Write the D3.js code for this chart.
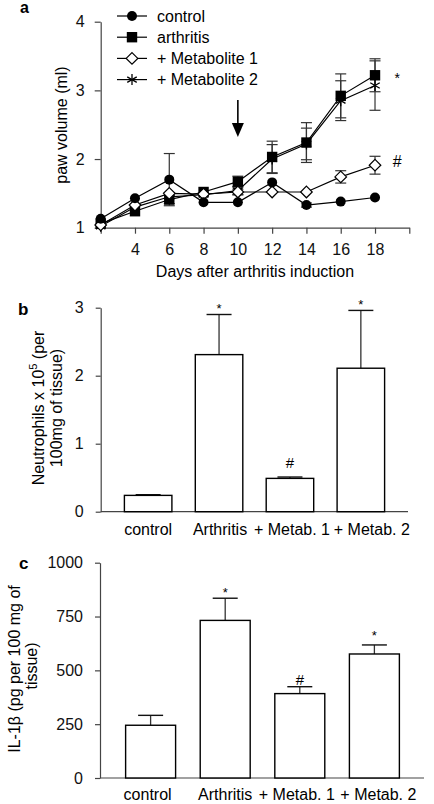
<!DOCTYPE html>
<html>
<head>
<meta charset="utf-8">
<script src="https://cdn.jsdelivr.net/npm/d3@7"></script>
<style>
  html, body { margin: 0; padding: 0; background: #fff; }
  svg { display: block; font-family: "Liberation Sans", Arial, Helvetica, sans-serif; }
  .axis path, .axis line { stroke: #444; stroke-width: 1.2; }
</style>
</head>
<body>
<svg id="chart" width="434" height="804"></svg>
<script>
// ---------- DATA ----------
// Panel a: paw volume (ml) vs days after arthritis induction
const days = [2, 4, 6, 8, 10, 12, 14, 16, 18];
const dayTicks = [2, 4, 6, 8, 10, 12, 14, 16, 18, 20];
const dayLabels = [4, 6, 8, 10, 12, 14, 16, 18];
const pawTicks = [1, 2, 3, 4];
const seriesNames = ["control", "arthritis", "+ Metabolite 1", "+ Metabolite 2"];
const controlVals   = [1.13, 1.43, 1.70, 1.37, 1.37, 1.66, 1.33, 1.38, 1.44];
const controlErr    = [0, 0, 0.38, 0, 0, 0, 0.03, 0, 0];
const arthritisVals = [1.06, 1.24, 1.41, 1.52, 1.67, 2.03, 2.24, 2.92, 3.22];
const arthritisErr  = [0, 0, 0.06, 0, 0.08, 0.23, 0.29, 0.32, 0.24];
const metab1Vals    = [1.04, 1.33, 1.50, 1.49, 1.52, 1.52, 1.52, 1.74, 1.91];
const metab1Err     = [0, 0, 0, 0, 0.04, 0, 0, 0.09, 0.13];
const metab2Vals    = [1.02, 1.30, 1.45, 1.48, 1.54, 2.00, 2.22, 2.85, 3.07];
const metab2Err     = [0, 0, 0, 0, 0.06, 0.21, 0.23, 0.29, 0.36];
const treatmentDay = 10;
const arrowTop = 2.86, arrowTip = 2.32;
const sigA = [{ day: 19.3, v: 3.11, t: "*" }, { day: 19.3, v: 1.89, t: "#" }];

// Panel b: neutrophils
const groupsB = ["control", "Arthritis", "+ Metab. 1", "+ Metab. 2"];
const neutrophils    = [0.24, 2.31, 0.49, 2.11];
const neutrophilsErr = [0.01, 0.59, 0.02, 0.85];
const neutroMarks    = ["", "*", "#", "*"];
const neutroTicks    = [0, 1, 2, 3];

// Panel c: IL-1beta
const groupsC = ["control", "Arthritis", "+ Metab. 1", "+ Metab. 2"];
const il1b    = [245, 732, 392, 576];
const il1bErr = [46, 103, 32, 42];
const il1bMarks = ["", "*", "#", "*"];
const il1bTicks = [0, 250, 500, 750, 1000];

// ---------- DRAW ----------
const svg = d3.select("#chart");
const FONT = "Liberation Sans, Arial, sans-serif";
const fmt = d3.format("d");

function styleAxis(g) {
  g.selectAll("text").attr("font-size", 16).attr("font-family", FONT).attr("fill", "#111");
}

// ===== Panel a =====
const xA = d3.scaleLinear().domain([2, 20]).range([100.7, 409.3]);
const yA = d3.scaleLinear().domain([1, 4]).range([227.7, 21.7]);

svg.append("g").attr("class", "axis")
  .attr("transform", `translate(0,${yA(1)})`)
  .call(d3.axisBottom(xA).tickValues(dayTicks).tickSize(6).tickSizeOuter(0).tickPadding(10)
    .tickFormat(d => dayLabels.includes(d) ? fmt(d) : ""))
  .call(styleAxis);
svg.append("g").attr("class", "axis")
  .attr("transform", `translate(${xA(2)},0)`)
  .call(d3.axisLeft(yA).tickValues(pawTicks).tickSize(6).tickSizeOuter(0).tickPadding(10).tickFormat(fmt))
  .call(styleAxis);

svg.append("text").attr("x", 255).attr("y", 277).attr("text-anchor", "middle")
  .attr("font-size", 16).attr("font-family", FONT).text("Days after arthritis induction");
svg.append("text").attr("transform", "translate(66.5,125) rotate(-90)").attr("text-anchor", "middle")
  .attr("font-size", 16).attr("font-family", FONT).text("paw volume (ml)");

const seriesData = [
  { name: seriesNames[1], vals: arthritisVals, err: arthritisErr, sym: "square" },
  { name: seriesNames[3], vals: metab2Vals, err: metab2Err, sym: "asterisk" },
  { name: seriesNames[2], vals: metab1Vals, err: metab1Err, sym: "diamond" },
  { name: seriesNames[0], vals: controlVals, err: controlErr, sym: "circle" }
];

function drawSymbol(g, sym) {
  if (sym === "circle") {
    g.append("circle").attr("r", 5).attr("fill", "#000");
  } else if (sym === "square") {
    g.append("rect").attr("x", -5.2).attr("y", -5.2).attr("width", 10.4).attr("height", 10.4).attr("fill", "#000");
  } else if (sym === "diamond") {
    g.append("path").attr("d", "M0,-5.8L5.8,0L0,5.8L-5.8,0Z").attr("fill", "#fff").attr("stroke", "#000").attr("stroke-width", 1.2);
  } else {
    const r = 5.5;
    [90, 30, -30].forEach(a => {
      const rad = a * Math.PI / 180;
      g.append("line").attr("x1", -r * Math.cos(rad)).attr("y1", -r * Math.sin(rad))
        .attr("x2", r * Math.cos(rad)).attr("y2", r * Math.sin(rad))
        .attr("stroke", "#000").attr("stroke-width", 1.3);
    });
  }
}

const line = d3.line().x(d => xA(d.day)).y(d => yA(d.v));
seriesData.forEach(s => {
  const pts = days.map((d, i) => ({ day: d, v: s.vals[i] }));
  svg.append("path").datum(pts).attr("d", line).attr("fill", "none")
    .attr("stroke", "#000").attr("stroke-width", 1.2);
});
seriesData.forEach(s => {
  days.forEach((d, i) => {
    const e = s.err[i];
    if (!e) return;
    const x = xA(d), v = s.vals[i];
    svg.append("line").attr("x1", x).attr("x2", x).attr("y1", yA(v - e)).attr("y2", yA(v + e))
      .attr("stroke", "#333").attr("stroke-width", 1.2);
    [v - e, v + e].forEach(yy => {
      svg.append("line").attr("x1", x - 5.5).attr("x2", x + 5.5).attr("y1", yA(yy)).attr("y2", yA(yy))
        .attr("stroke", "#333").attr("stroke-width", 1.2);
    });
  });
});
seriesData.forEach(s => {
  days.forEach((d, i) => {
    const g = svg.append("g").attr("transform", `translate(${xA(d)},${yA(s.vals[i])})`);
    drawSymbol(g, s.sym);
  });
});

// legend
const legendSyms = ["circle", "square", "diamond", "asterisk"];
seriesNames.forEach((n, i) => {
  const y = 16 + i * 21.2;
  svg.append("line").attr("x1", 117).attr("x2", 147).attr("y1", y).attr("y2", y)
    .attr("stroke", "#000").attr("stroke-width", 1.2);
  const g = svg.append("g").attr("transform", `translate(132,${y})`);
  drawSymbol(g, legendSyms[i]);
  svg.append("text").attr("x", 157).attr("y", y + 5.8).attr("font-size", 16)
    .attr("font-family", FONT).text(n);
});

// arrow
const ax = xA(treatmentDay);
svg.append("line").attr("x1", ax).attr("x2", ax).attr("y1", yA(arrowTop)).attr("y2", yA(arrowTip) - 12)
  .attr("stroke", "#000").attr("stroke-width", 1.6);
svg.append("path")
  .attr("d", `M${ax - 6},${yA(arrowTip) - 14}L${ax + 6},${yA(arrowTip) - 14}L${ax},${yA(arrowTip)}Z`)
  .attr("fill", "#000");

sigA.forEach(s => {
  svg.append("text").attr("x", xA(s.day)).attr("y", yA(s.v)).attr("text-anchor", "middle")
    .attr("font-size", s.t === "*" ? 14 : 16).attr("font-family", FONT).text(s.t);
});

svg.append("text").attr("x", 20).attr("y", 13).attr("font-size", 16).attr("font-weight", "bold")
  .attr("font-family", FONT).text("a");

// ===== Bar panel helper =====
function barPanel(opts) {
  const { groups, vals, errs, marks, ticks, domain, yRange, xRange, axisX, axisEnd,
          markGap, labelNudge, labelY, capW } = opts;
  const x = d3.scaleBand().domain(groups).range(xRange).padding(0.33);
  const y = d3.scaleLinear().domain(domain).range(yRange);

  svg.append("g").attr("class", "axis").attr("transform", `translate(${axisX},0)`)
    .call(d3.axisLeft(y).tickValues(ticks).tickSize(5).tickSizeOuter(0).tickPadding(12).tickFormat(fmt))
    .call(styleAxis);
  svg.append("line").attr("x1", axisX).attr("x2", axisEnd).attr("y1", y(0)).attr("y2", y(0))
    .attr("stroke", "#444").attr("stroke-width", 1.2);

  groups.forEach((g, i) => {
    const cx = x(g) + x.bandwidth() / 2;
    svg.append("line").attr("x1", cx).attr("x2", cx).attr("y1", y(vals[i])).attr("y2", y(vals[i] + errs[i]))
      .attr("stroke", "#333").attr("stroke-width", 1.3);
    svg.append("line").attr("x1", cx - capW / 2).attr("x2", cx + capW / 2)
      .attr("y1", y(vals[i] + errs[i])).attr("y2", y(vals[i] + errs[i]))
      .attr("stroke", "#111").attr("stroke-width", 1.4);
  });
  svg.selectAll(null).data(groups).enter().append("rect")
    .attr("x", d => x(d)).attr("width", x.bandwidth())
    .attr("y", (d, i) => y(vals[i])).attr("height", (d, i) => y(0) - y(vals[i]))
    .attr("fill", "#fff").attr("stroke", "#000").attr("stroke-width", 1.4);
  groups.forEach((g, i) => {
    if (!marks[i]) return;
    const cx = x(g) + x.bandwidth() / 2;
    svg.append("text").attr("x", cx).attr("y", y(vals[i] + errs[i]) - markGap[i])
      .attr("text-anchor", "middle").attr("font-size", marks[i] === "*" ? 13 : 15)
      .attr("font-family", FONT).text(marks[i]);
  });
  groups.forEach((g, i) => {
    svg.append("text").attr("x", x(g) + x.bandwidth() / 2 + labelNudge[i]).attr("y", labelY)
      .attr("text-anchor", "middle").attr("font-size", 16).attr("font-family", FONT).text(g);
  });
}

// ===== Panel b =====
barPanel({
  groups: groupsB, vals: neutrophils, errs: neutrophilsErr, marks: neutroMarks,
  ticks: neutroTicks, domain: [0, 3], yRange: [511.7, 307.7], xRange: [101, 408],
  axisX: 100.7, axisEnd: 408, markGap: [0, 2, 9, 1], labelNudge: [0, 1, 2, 11], labelY: 535, capW: 25
});
const yLabB = svg.append("g").attr("transform", "translate(0,408)");
const tB1 = yLabB.append("text").attr("transform", "translate(43.5,0) rotate(-90)").attr("text-anchor", "middle")
  .attr("font-size", 16).attr("font-family", FONT);
tB1.append("tspan").text("Neutrophils x 10");
tB1.append("tspan").attr("font-size", 11).attr("dy", -7).text("5");
tB1.append("tspan").attr("dy", 7).text(" (per");
yLabB.append("text").attr("transform", "translate(62,0) rotate(-90)").attr("text-anchor", "middle")
  .attr("font-size", 16).attr("font-family", FONT).text("100mg of tissue)");
svg.append("text").attr("x", 18).attr("y", 315).attr("font-size", 17).attr("font-weight", "bold")
  .attr("font-family", FONT).text("b");

// ===== Panel c =====
barPanel({
  groups: groupsC, vals: il1b, errs: il1bErr, marks: il1bMarks,
  ticks: il1bTicks, domain: [0, 1000], yRange: [778, 562.7], xRange: [101, 424],
  axisX: 100, axisEnd: 424, markGap: [0, 1, 2, 5], labelNudge: [-3, 0, -3, 4], labelY: 800, capW: 25
});
svg.append("text").attr("transform", "translate(19.5,669) rotate(-90)").attr("text-anchor", "middle")
  .attr("font-size", 16).attr("font-family", FONT).text("IL-1β (pg per 100 mg of");
svg.append("text").attr("transform", "translate(37,666) rotate(-90)").attr("text-anchor", "middle")
  .attr("font-size", 16).attr("font-family", FONT).text("tissue)");
svg.append("text").attr("x", 19).attr("y", 569).attr("font-size", 17).attr("font-weight", "bold")
  .attr("font-family", FONT).text("c");
</script>
</body>
</html>
